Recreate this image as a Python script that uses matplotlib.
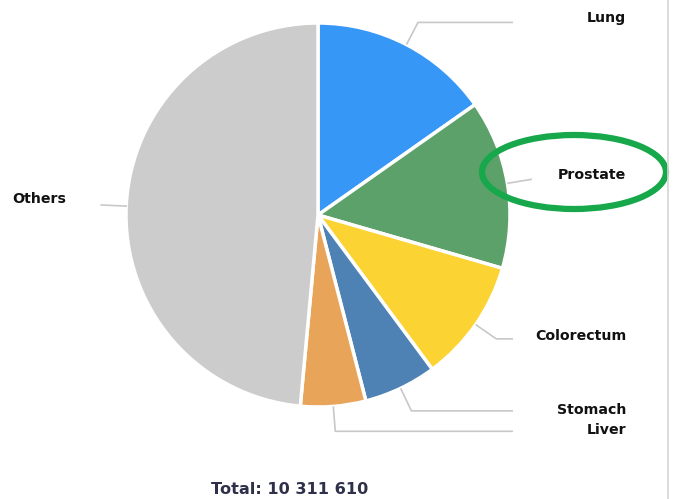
import numpy as np
import matplotlib.pyplot as plt
from matplotlib.patches import Ellipse

# new cancer cases, males, all ages
sites = ['Lung', 'Prostate', 'Colorectum', 'Stomach', 'Liver', 'Others']
cases = [1572045, 1467854, 1069446, 632746, 565493, 5004026]
colors = ['#3797f7', '#5ca06a', '#fbd332', '#4e81b4', '#e8a55a', '#cccccc']
total_text = 'Total: 10 311 610'

W, H = 677, 499
fig = plt.figure(figsize=(W / 100, H / 100), dpi=100)
ax = fig.add_axes([0, 0, 1, 1])

cx, cy, r = 318, H - 215, 192
wedges, _ = ax.pie(cases, colors=colors, startangle=90, counterclock=False,
                   center=(cx, cy), radius=r, frame=True,
                   wedgeprops=dict(edgecolor='white', linewidth=2.5, joinstyle='round'))
ax.set_xlim(0, W)
ax.set_ylim(0, H)
ax.axis('off')

line_col = '#c8c8c8'
label_x = 626
line_end = 513
label_shift = {'Lung': 4, 'Prostate': 4, 'Colorectum': 3, 'Stomach': 1, 'Liver': 1, 'Others': 6}
for w, name in zip(wedges, sites):
    mid = np.deg2rad((w.theta1 + w.theta2) / 2)
    x0, y0 = cx + r * np.cos(mid), cy + r * np.sin(mid)
    x1, y1 = cx + (r + 25) * np.cos(mid), cy + (r + 25) * np.sin(mid)
    ty = y1 + label_shift[name]
    if np.cos(mid) >= 0:
        xs = [x0, x1, max(x1, line_end)]
        ax.plot(xs, [y0, y1, y1], color=line_col, lw=1.2, solid_capstyle='butt')
        ax.text(label_x, ty, name, ha='right', va='center', fontsize=10.2,
                fontweight='bold', color='#111111')
    else:
        ax.plot([x0, x1], [y0, y1], color=line_col, lw=1.2)
        ax.text(66, ty, name, ha='right', va='center', fontsize=10.2,
                fontweight='bold', color='#111111')

ax.text(290, H - 490, total_text, ha='center', va='center', fontsize=11.6,
        fontweight='bold', color='#2e3149')

# highlight ring around the prostate label
ax.add_patch(Ellipse((574, H - 172), 184, 74, fill=False, edgecolor='#16a84a', lw=4.5))

# page edge on the right
ax.plot([668, 668], [0, H], color='#d6d6d6', lw=1.2)

fig.savefig('out.png', dpi=100, facecolor='white')
